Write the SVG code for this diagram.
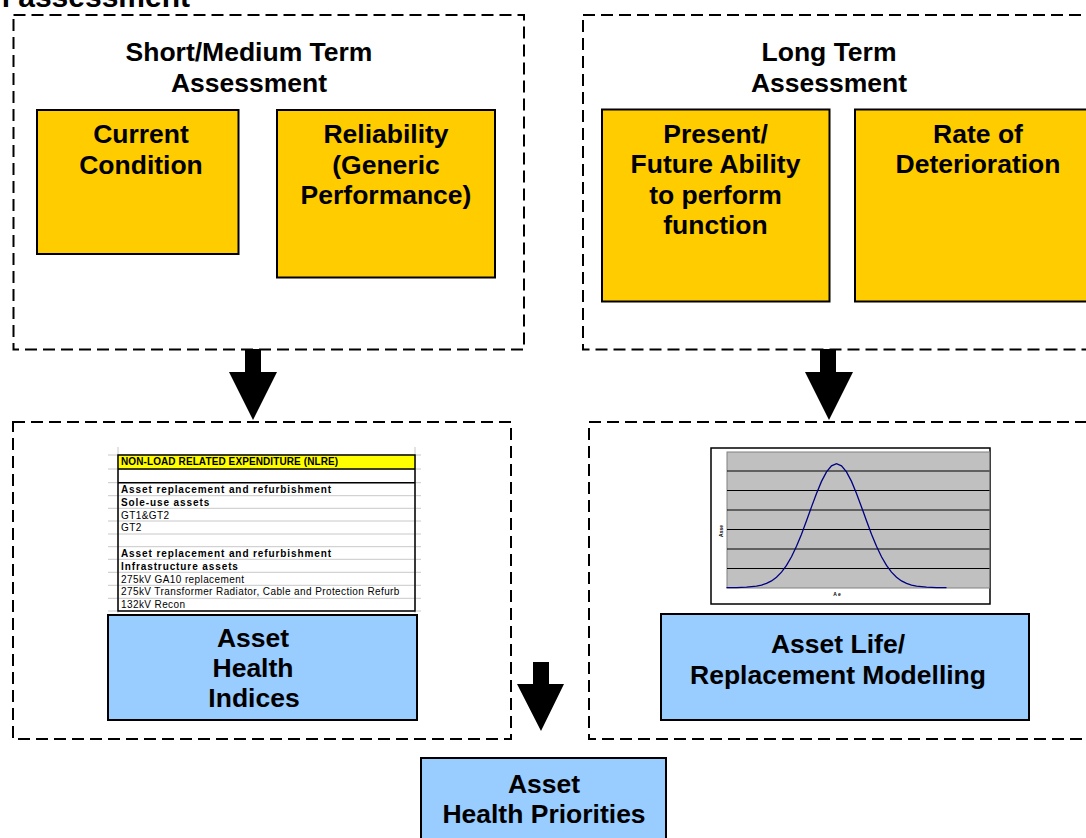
<svg xmlns="http://www.w3.org/2000/svg" width="1086" height="838" viewBox="0 0 1086 838">
<style>
.dash{fill:none;stroke:#000;stroke-width:2;stroke-dasharray:12 6}
.yel{fill:#FFCC00;stroke:#000;stroke-width:2}
.blue{fill:#99CCFF;stroke:#000;stroke-width:2}
.t{font-family:"Liberation Sans",Arial,sans-serif;font-weight:bold;font-size:26.5px;fill:#000;text-anchor:middle}
.s{font-family:"Liberation Sans",Arial,sans-serif;font-size:10px;letter-spacing:0.4px;fill:#000}
.sb{font-family:"Liberation Sans",Arial,sans-serif;font-size:10px;font-weight:bold;letter-spacing:0.9px;fill:#000}
.g{stroke:#c8c8c8;stroke-width:1}
.arr{fill:#000}
</style>
<rect width="1086" height="838" fill="#fff"/>
<text x="190" y="7" font-family="Liberation Sans, Arial, sans-serif" font-weight="bold" font-size="30" text-anchor="end">n assessment</text>

<g id="short-medium">
<rect class="dash" x="13.5" y="15" width="510.5" height="334.5"/>
<text class="t" x="249" y="61">Short/Medium Term</text>
<text class="t" x="249" y="91.5">Assessment</text>
</g>
<g id="current-condition">
<rect class="yel" x="37" y="110" width="201.5" height="144"/>
<text class="t" x="141" y="143">Current</text>
<text class="t" x="141" y="173.5">Condition</text>
</g>
<g id="reliability">
<rect class="yel" x="277" y="110" width="218" height="167.5"/>
<text class="t" x="386" y="143">Reliability</text>
<text class="t" x="386" y="173.5">(Generic</text>
<text class="t" x="386" y="204">Performance)</text>
</g>

<g id="long-term">
<rect class="dash" x="583" y="15" width="520" height="334.5"/>
<text class="t" x="829" y="61">Long Term</text>
<text class="t" x="829" y="91.5">Assessment</text>
</g>
<g id="present-future">
<rect class="yel" x="602" y="109.5" width="227.5" height="192"/>
<text class="t" x="715.5" y="142.5">Present/</text>
<text class="t" x="715.5" y="173">Future Ability</text>
<text class="t" x="715.5" y="203.5">to perform</text>
<text class="t" x="715.5" y="234">function</text>
</g>
<g id="rate-deterioration">
<rect class="yel" x="855" y="109.5" width="250" height="192"/>
<text class="t" x="978" y="142.5">Rate of</text>
<text class="t" x="978" y="173">Deterioration</text>
</g>

<g id="health-indices-group">
<rect class="dash" x="13" y="422" width="498" height="317"/>
</g>
<g id="nlre-table">
<rect x="108" y="447" width="313" height="166" fill="#fff"/>
<line class="g" x1="118" y1="447" x2="118" y2="613"/>
<line class="g" x1="415" y1="447" x2="415" y2="613"/>
<g class="g">
<line x1="108" y1="455" x2="421" y2="455"/>
<line x1="108" y1="469" x2="421" y2="469"/>
<line x1="108" y1="482.7" x2="421" y2="482.7"/>
<line x1="108" y1="495.7" x2="421" y2="495.7"/>
<line x1="108" y1="508.3" x2="421" y2="508.3"/>
<line x1="108" y1="521" x2="421" y2="521"/>
<line x1="108" y1="534" x2="421" y2="534"/>
<line x1="108" y1="546.7" x2="421" y2="546.7"/>
<line x1="108" y1="559.3" x2="421" y2="559.3"/>
<line x1="108" y1="572.3" x2="421" y2="572.3"/>
<line x1="108" y1="585.3" x2="421" y2="585.3"/>
<line x1="108" y1="598.3" x2="421" y2="598.3"/>
<line x1="108" y1="611" x2="421" y2="611"/>
</g>
<rect x="118" y="455" width="297" height="14" fill="#FFFF00"/>
<rect x="118" y="455" width="297" height="156" fill="none" stroke="#000" stroke-width="1.5"/>
<line x1="118" y1="469" x2="415" y2="469" stroke="#000" stroke-width="1.5"/>
<line x1="118" y1="482.7" x2="415" y2="482.7" stroke="#000" stroke-width="1.5"/>
<text class="sb" x="121" y="465" style="letter-spacing:0.1px">NON-LOAD RELATED EXPENDITURE (NLRE)</text>
<text class="sb" x="121" y="493">Asset replacement and refurbishment</text>
<text class="sb" x="121" y="506">Sole-use assets</text>
<text class="s" x="121" y="518.5">GT1&amp;GT2</text>
<text class="s" x="121" y="531">GT2</text>
<text class="sb" x="121" y="557">Asset replacement and refurbishment</text>
<text class="sb" x="121" y="570">Infrastructure assets</text>
<text class="s" x="121" y="582.5">275kV GA10 replacement</text>
<text class="s" x="121" y="595">275kV Transformer Radiator, Cable and Protection Refurb</text>
<text class="s" x="121" y="608">132kV Recon</text>
</g>
<g id="asset-health-indices">
<rect class="blue" x="108" y="615" width="309" height="105"/>
<text class="t" x="253" y="647">Asset</text>
<text class="t" x="253" y="677">Health</text>
<text class="t" x="254" y="707">Indices</text>
</g>

<g id="replacement-group">
<rect class="dash" x="589" y="422" width="520" height="317"/>
</g>
<g id="life-chart">
<rect x="711" y="448" width="279" height="156" fill="#fff" stroke="#000" stroke-width="1.5"/>
<rect x="727" y="452" width="262.5" height="136" fill="#C0C0C0" stroke="#808080" stroke-width="1"/>
<g stroke="#000" stroke-width="1">
<line x1="727" y1="471" x2="989.5" y2="471"/>
<line x1="727" y1="490.5" x2="989.5" y2="490.5"/>
<line x1="727" y1="510" x2="989.5" y2="510"/>
<line x1="727" y1="529.5" x2="989.5" y2="529.5"/>
<line x1="727" y1="549" x2="989.5" y2="549"/>
<line x1="727" y1="568.5" x2="989.5" y2="568.5"/>
</g>
<polyline fill="none" stroke="#000080" stroke-width="1.3" points="726.5,587.7 736.5,587.6 746.5,587.2 756.5,586.2 761.5,585.1 766.5,583.4 771.5,580.9 776.5,577.2 781.5,572.1 786.5,565.4 791.5,556.8 796.5,546.3 801.5,534.2 806.5,520.8 811.5,506.9 816.5,493.4 821.5,481.4 826.5,471.9 831.5,465.8 836.5,463.7 841.5,465.8 846.5,471.9 851.5,481.4 856.5,493.4 861.5,506.9 866.5,520.8 871.5,534.2 876.5,546.3 881.5,556.8 886.5,565.4 891.5,572.1 896.5,577.2 901.5,580.9 906.5,583.4 911.5,585.1 916.5,586.2 926.5,587.2 936.5,587.6 946.5,587.7"/>
<text x="837" y="596" font-family="Liberation Sans, Arial, sans-serif" font-weight="bold" font-size="5" text-anchor="middle">A e</text>
<text x="0" y="0" transform="translate(723,531) rotate(-90)" font-family="Liberation Sans, Arial, sans-serif" font-weight="bold" font-size="5" text-anchor="middle">Asse</text>
</g>
<g id="asset-life">
<rect class="blue" x="661" y="614" width="368" height="106"/>
<text class="t" x="838" y="653">Asset Life/</text>
<text class="t" x="838" y="684">Replacement Modelling</text>
</g>

<g id="asset-health-priorities">
<rect class="blue" x="421" y="758" width="245" height="90"/>
<text class="t" x="544" y="793">Asset</text>
<text class="t" x="544" y="823">Health Priorities</text>
</g>

<g id="connectors">
<polygon class="arr" points="245,349 261,349 261,372 277,372 253,420 229,372 245,372"/>
<polygon class="arr" points="820,349 836,349 836,372 853,372 829,420 805,372 820,372"/>
<polygon class="arr" points="533,662 549,662 549,684 564,684 541,731 517,684 533,684"/>
</g>
</svg>
